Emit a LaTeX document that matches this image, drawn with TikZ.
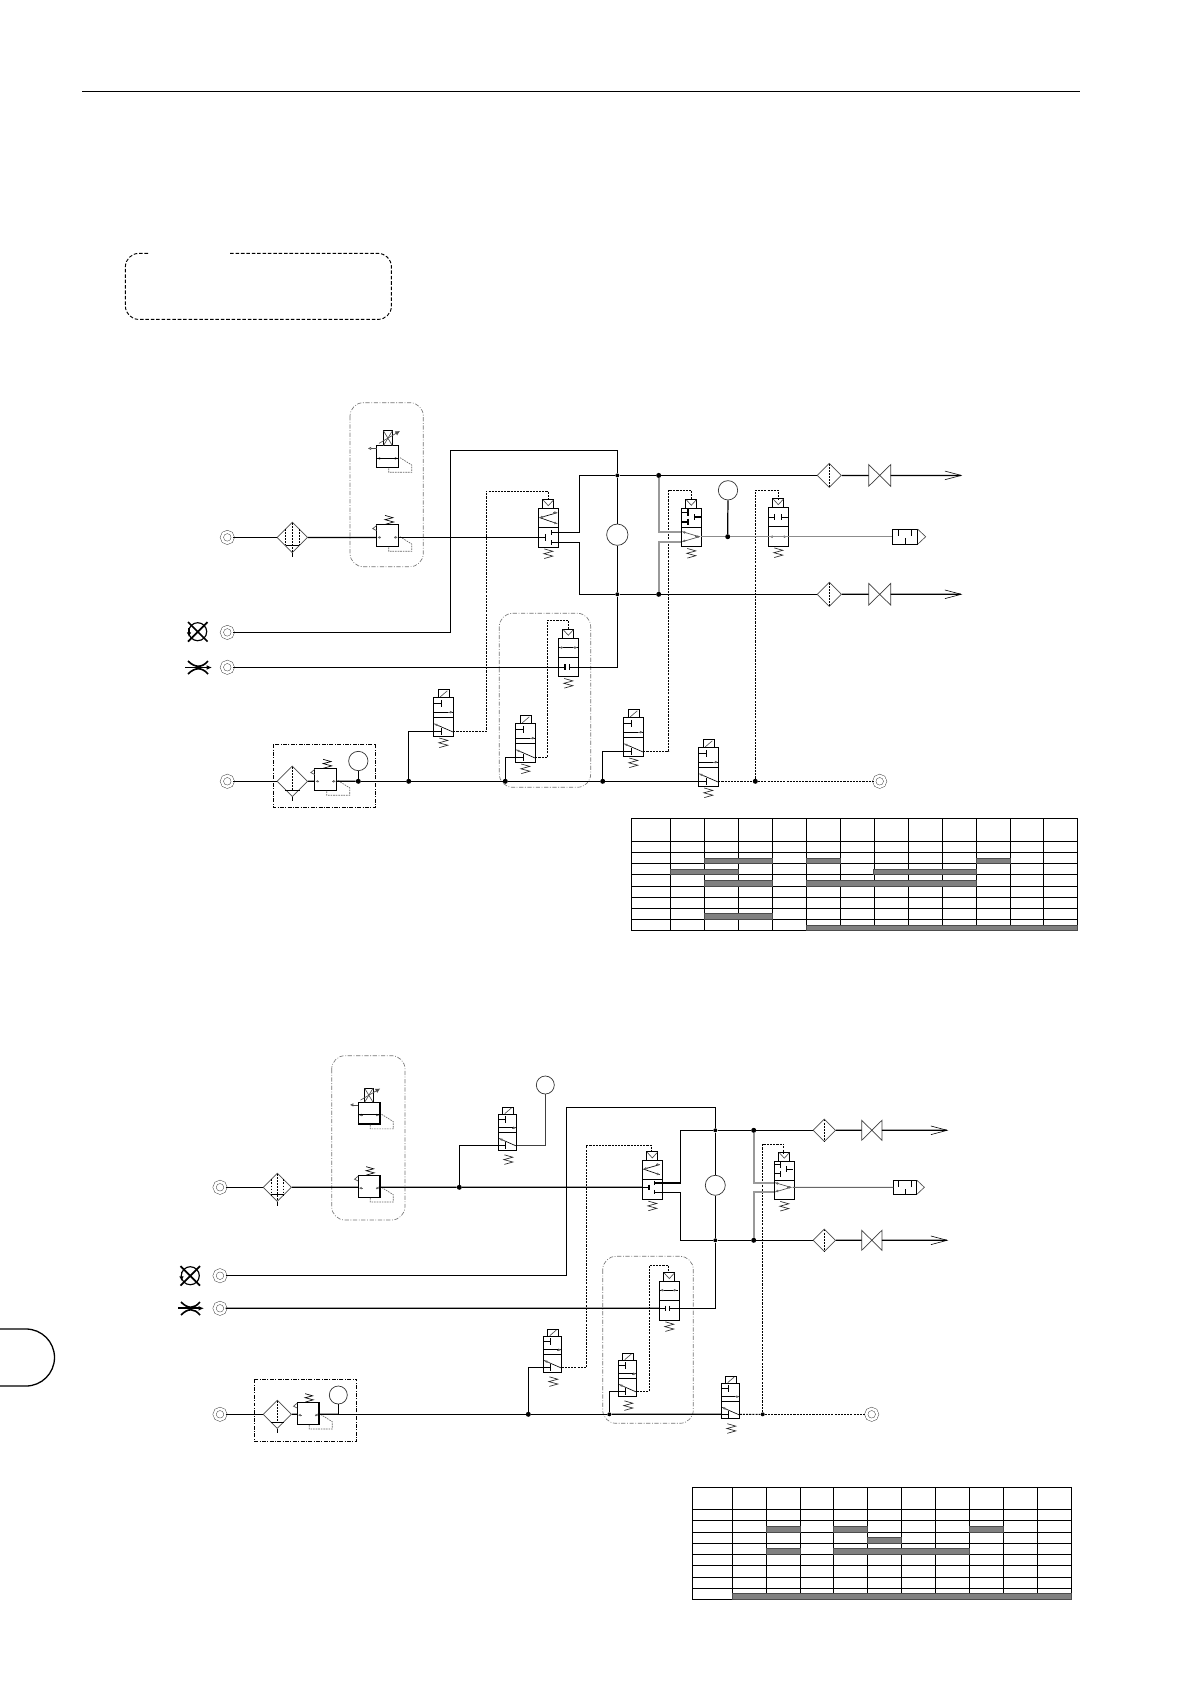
\documentclass[tikz,border=0pt]{standalone}
\usetikzlibrary{shapes.geometric,arrows.meta}
\tikzset{
	pipe/.style={line width=1.05pt,line join=miter},
	sig/.style={line width=.9pt,dash pattern=on 1.8pt off .9pt},
	sigf/.style={line width=.65pt,dash pattern=on 1.6pt off 1pt},
	lite/.style={line width=1.6pt,color=black!40},
	lineg/.style={line width=.9pt,color=black!45},
	part/.style={line width=.9pt},
	fine/.style={line width=.55pt,color=black!70},
	back/.style={line width=.55pt,color=black!60,dash pattern=on 1.4pt off .8pt},
	tick/.style={line width=.45pt,color=black!60,-{Latex[length=2.4pt,width=2.4pt]}},
	port/.style={circle,draw=black!75,double,double distance=2.2pt,line width=.4pt,minimum size=3.3mm,inner sep=0pt},
	dot/.style={circle,fill=black,minimum size=1.5mm,inner sep=0pt},
	gauge/.style={circle,draw=black!80,line width=.6pt,inner sep=0pt},
	filtr/.style={diamond,draw=black!70,line width=.6pt,inner sep=0pt,aspect=1},
	unit/.style={line width=.9pt,dash pattern=on 3.4pt off 1.2pt on .8pt off 1.2pt},
	grp/.style={line width=.55pt,color=black!55,dash pattern=on 3.6pt off 1.4pt on .7pt off 1.4pt,rounded corners=4mm},
	grid/.style={line width=.85pt},
	bar/.style={fill=black!50,draw=black!70,line width=.4pt},
	spring/.pic={\draw[fine,color=black!85] (6,40.2) -- (14.5,42.6) -- (5.5,45) -- (14.5,47.4) -- (6,49.8);},
	vbody/.pic={
		\draw[part] (0,0) rectangle (20,38.5);
		\draw[part] (0,19) -- (20,19);
		\pic {spring};
	},
	vpilot/.pic={
		\draw[part] (4.3,-9) rectangle (15.5,0);
		\draw[fine] (5,-8.5) -- (10,-3) -- (15,-8.5);
	},
	crossvalve/.pic={
		\pic {vbody}; \pic {vpilot};
		\draw[fine,color=black] (19,4) -- (1.5,9) -- (19,15);
		\draw[tick,line width=.9pt] (6,7.7) -- (1.2,9);
		\draw[tick] (15,3.9) -- (19,3.9);
		\draw[tick] (15,13.8) -- (19,15);
		\draw[part] (0,28.7) -- (7.3,28.7) (7.3,25.7) -- (7.3,32);
		\draw[part] (20,24) -- (13,24) (13,21.5) -- (13,26.5);
		\draw[part] (20,34) -- (13,34) (13,31.5) -- (13,36.5);
		\coordinate (-in) at (0,28.7);
		\coordinate (-outa) at (20,24);
		\coordinate (-outb) at (20,34);
		\coordinate (-top) at (10,-9);
	},
	passvalve/.pic={
		\pic {vbody}; \pic {vpilot};
		\draw[fine,color=black] (0,9.3) -- (20,9.3);
		\draw[tick] (5,9.3) -- (1,9.3);
		\draw[tick] (15,9.3) -- (19,9.3);
		\draw[part] (0,29) -- (6.7,29) (6.7,26) -- (6.7,32);
		\draw[part] (20,29) -- (11,29) (11,26) -- (11,32);
		\coordinate (-in) at (0,29);
		\coordinate (-out) at (20,29);
		\coordinate (-top) at (10,-9);
	},
	joinvalve/.pic={
		\pic {vbody}; \pic {vpilot};
		\draw[part] (0,4) -- (6.7,4) (6.7,.8) -- (6.7,7.4);
		\draw[part] (0,13.7) -- (6.7,13.7) (6.7,10.5) -- (6.7,16.8);
		\draw[part] (20,8.7) -- (13,8.7) (13,5.7) -- (13,11.7);
		\draw[fine] (1,23.4) -- (18,28.4) -- (1,33.4);
		\draw[tick,line width=.8pt] (14,28.4) -- (19,28.4);
		\draw[tick] (5,31.9) -- (1,33.4);
		\draw[tick] (5,24.6) -- (1,23.4);
		\coordinate (-ina) at (0,23.4);
		\coordinate (-inb) at (0,33.4);
		\coordinate (-out) at (20,28.4);
		\coordinate (-top) at (10.4,-9);
	},
	stopvalve/.pic={
		\pic {vbody}; \pic {vpilot};
		\draw[part] (0,9.5) -- (6,9.5) (6,6.3) -- (6,12.7);
		\draw[part] (20,9.5) -- (13.3,9.5) (13.3,6.3) -- (13.3,12.7);
		\draw[tick] (5,29) -- (1.5,29);
		\draw[tick] (15,29) -- (18.5,29);
		\coordinate (-in) at (0,29);
		\coordinate (-out) at (20,29);
		\coordinate (-top) at (10,-9);
	},
	coilvalve/.pic={
		\draw[part] (0,0) rectangle (20,38.5);
		\draw[part] (5,-8) rectangle (16,0);
		\draw[fine] (7,-1) -- (14,-7);
		\draw[part] (0,19.8) -- (20,19.8);
		\draw[part] (0,14.3) -- (20,14.3);
		\draw[tick] (15,14.3) -- (19.5,14.3);
		\draw[part] (0,5.3) -- (8.3,5.3) (8.3,2) -- (8.3,8.7);
		\draw[part] (0,33.5) -- (8.3,33.5) (8.3,30) -- (8.3,37.5);
		\draw[fine,color=black] (20,34.3) -- (1,26);
		\draw[tick,line width=.8pt] (6,28.2) -- (1,26);
		\pic {spring};
		\coordinate (-in) at (0,33.5);
		\coordinate (-out) at (20,33.5);
	},
	regbase/.pic={
		\draw[part] (0,0) rectangle (21.7,21.7);
		\draw[tick] (4.5,12.7) -- (.6,12.7);
		\draw[tick] (17.2,12.7) -- (21.1,12.7);
		\draw[back] (23.3,12) -- (35,19.3) -- (35,26.6) -- (12,26.6) -- (12,21.7);
		\coordinate (-w) at (0,12.7);
		\coordinate (-e) at (21.7,12.7);
	},
	regspring/.pic={
		\pic (-b) {regbase};
		\coordinate (-w) at (0,12.7);
		\coordinate (-e) at (21.7,12.7);
		\draw[fine,color=black] (8.3,-9.3) -- (16.3,-7) -- (8.3,-5) -- (17,-2.7) -- (8.3,-.3);
		\draw[fine] (0,.7) -- (-4,4) -- (0,6);
	},
	regcoil/.pic={
		\pic (-b) {regbase};
		\draw[part] (0,12.7) -- (21.7,12.7);
		\draw[part] (6.7,-15) rectangle (15.7,0);
		\draw[fine] (6.7,-15) -- (15.7,0) (6.7,0) -- (15.7,-15);
		\draw[fine,-{Latex[length=4pt,width=4pt]}] (2.3,-2.3) -- (23.3,-14.7);
		\draw[fine,-{Latex[open,length=3pt,width=3pt]}] (0,2.7) -- (-9,2.7);
	},
	filterthree/.pic={
		\draw[sigf] (0,-14.5) -- (0,14.5) (-6.7,-8.5) -- (-6.7,8) (6.7,-8.5) -- (6.7,8);
		\draw[part] (-6.7,8) -- (6.7,8) (0,15.3) -- (0,19.7);
	},
	filterone/.pic={
		\draw[sigf] (0,-14.5) -- (0,9);
		\draw[part] (-7.3,9.3) -- (7.3,9.3) (0,15.3) -- (0,20);
	},
	filterline/.pic={\draw[sigf] (0,-11.5) -- (0,11.5);},
	cock/.pic={
		\draw[line width=.6pt,color=black!75] (0,0) -- (22,21.7) -- (22,0) -- (0,21.7) -- cycle;
		\coordinate (-w) at (0,10.85);
		\coordinate (-e) at (22,10.85);
	},
	muffler/.pic={
		\draw[part] (0,0) rectangle (25.4,15);
		\draw[fine] (25.4,0) -- (33.4,7.5) -- (25.4,15);
		\draw[part] (6,0) -- (6,6.7) (19.3,0) -- (19.3,6.7) (13,15) -- (13,9);
		\coordinate (-w) at (0,7.5);
	},
	exit/.style={-{Straight Barb[length=4.9mm,width=2.6mm,line width=.5pt]}},
}
\begin{document}
\begin{tikzpicture}[x=.3mm,y=-.3mm]
	\useasboundingbox (0,0) rectangle (1191,1684);
	% page rule, tab, empty frame
	\draw[line width=1.1pt] (82,91.5) -- (1080,91.5);
	\draw[line width=1.1pt] (0,1329) -- (26,1329) arc (-90:90:28.5) -- (0,1386);
	\draw[line width=.8pt,dash pattern=on 3pt off 1.6pt,rounded corners=4mm] (148,253.4) -| (125.4,319.4) -| (391.4,253.4) -- (229,253.4);

	% upper circuit
	\draw[grp] (350,402.7) rectangle (423.3,566.7);
	\draw[grp] (499.3,613.3) rectangle (590.7,787.3);
	\draw[unit] (273.3,744.3) rectangle (375.7,807.3);

	\node[port] (p1) at (227.3,537.4) {};
	\node[port] (p2) at (227.3,632.4) {};
	\node[port] (p3) at (227.3,667.3) {};
	\node[port] (p4) at (227.3,781.3) {};
	\node[port] (p5) at (879.7,781.3) {};
	\node[filtr,minimum size=9.2mm] (f1) at (292.3,537.4) {};
	\node[filtr,minimum size=9.2mm] (f2) at (292.3,781.3) {};
	\node[filtr,minimum size=7.3mm] (f3) at (829.3,475.4) {};
	\node[filtr,minimum size=7.3mm] (f4) at (829.3,594.3) {};
	\pic at (f1) {filterthree};
	\pic at (f2) {filterone};
	\pic at (f3) {filterline};
	\pic at (f4) {filterline};
	\pic (r0) at (376.7,445.7) {regcoil};
	\pic (r1) at (376.7,524.7) {regspring};
	\pic (r2) at (314.8,768.6) {regspring};
	\pic (b1) at (868.7,464.55) {cock};
	\pic (b2) at (868.7,583.45) {cock};
	\pic (v1) at (538.3,508.7) {crossvalve};
	\pic (v2) at (558.3,638.3) {passvalve};
	\pic (v3) at (433.3,697.8) {coilvalve};
	\pic (v4) at (515.3,723.8) {coilvalve};
	\pic (v5) at (623.3,717.8) {coilvalve};
	\pic (v6) at (681.3,508.3) {joinvalve};
	\pic (v7) at (768.3,507.7) {stopvalve};
	\pic (v8) at (698.3,747.8) {coilvalve};
	\pic (s1) at (892.3,529.2) {muffler};
	\node[gauge,minimum size=6.4mm] (g1) at (617.3,534.7) {};
	\node[gauge,minimum size=5.8mm] (g2) at (358.3,761) {};
	\node[gauge,minimum size=5.8mm] (g3) at (728,490.3) {};
	\node[dot] (d1) at (358.3,781.3) {};
	\node[dot] (j1) at (408.7,781.3) {};
	\node[dot] (j2) at (505.3,781.3) {};
	\node[dot] (j3) at (602.7,781.3) {};
	\node[dot] (d2) at (755.3,781.3) {};
	\node[dot,minimum size=1.2mm] (j4) at (617.3,475.4) {};
	\node[dot,minimum size=1.2mm] (j5) at (617.3,594.3) {};
	\node[dot] (j6) at (658.7,475.4) {};
	\node[dot] (j7) at (658.7,594.3) {};
	\node[dot] (d3) at (727.7,536.7) {};
	\coordinate (c1) at (450.3,450.3);
	\coordinate (c2) at (579.3,475.4);
	\coordinate (c3) at (579.3,594.3);
	\coordinate (c4) at (486.3,491.3);
	\coordinate (c5) at (547.3,620.3);
	\coordinate (c6) at (668.7,490.3);
	\coordinate (c7) at (755.3,490.3);
	\coordinate (a1) at (962.3,475.4);
	\coordinate (a2) at (962.3,594.3);

	\draw[pipe] (p1) -- (f1);
	\draw[pipe] (f1) -- (r1-w);
	\draw[pipe] (r1-e) -- (v1-in);
	\draw[pipe] (p2) -| (c1) -| (j4);
	\draw[pipe] (j4) -- (g1);
	\draw[pipe] (g1) -- (j5);
	\draw[pipe] (p3) -- (v2-in);
	\draw[pipe] (v2-out) -| (j5);
	\draw[pipe] (v1-outa) -| (c2) -- (j4);
	\draw[pipe] (v1-outb) -| (c3) -- (j5);
	\draw[pipe] (j4) -- (j6);
	\draw[pipe] (j6) -- (f3);
	\draw[pipe] (f3) -- (b1-w);
	\draw[pipe,exit] (b1-e) -- (a1);
	\draw[pipe] (j5) -- (j7);
	\draw[pipe] (j7) -- (f4);
	\draw[pipe] (f4) -- (b2-w);
	\draw[pipe,exit] (b2-e) -- (a2);
	\draw[pipe] (p4) -- (f2);
	\draw[pipe] (f2) -- (r2-w);
	\draw[pipe] (r2-e) -- (d1);
	\draw[pipe] (g2) -- (d1);
	\draw[pipe] (d1) -- (j1);
	\draw[pipe] (j1) -- (j2);
	\draw[pipe] (j2) -- (j3);
	\draw[pipe] (j3) -- (v8-in);
	\draw[pipe] (j1) |- (v3-in);
	\draw[pipe] (j2) |- (v4-in);
	\draw[pipe] (j3) |- (v5-in);
	\draw[pipe] (g3) -- (d3);
	\draw[sig] (v3-out) -| (c4) -| (v1-top);
	\draw[sig] (v4-out) -| (c5) -| (v2-top);
	\draw[sig] (v5-out) -| (c6) -| (v6-top);
	\draw[sig] (v8-out) -- (d2);
	\draw[sig] (d2) -- (p5);
	\draw[sig] (d2) -- (c7) -| (v7-top);
	\draw[lite] (j6) |- (v6-ina);
	\draw[lite] (j7) |- (v6-inb);
	\draw[lineg] (v6-out) -- (d3);
	\draw[lineg] (d3) -- (v7-in);
	\draw[lineg] (v7-in) -- (v7-out);
	\draw[lineg] (v7-out) -- (s1-w);

	% upper table
	\foreach \x in {631,670.3,704.3,738.3,772.3,806.3,840.3,874.3,908.3,942.3,976.3,1010.3,1043.3,1077.7}
	{
		\draw[grid] (\x,818.3) -- (\x,930.3);
	}
	\foreach \y in {818.3,841.3,852.3,863.3,874.3,886.3,897.3,908.3,919.3,930.3}
	{
		\draw[grid] (631,\y) -- (1077.7,\y);
	}
	\foreach \a/\d/\b/\c in {858.3/863.3/704.3/772.3,858.3/863.3/806.3/840.3,858.3/863.3/976.3/1010.3,869.3/874.3/670.3/738.3,869.3/874.3/873.3/976.3,880.3/886.3/704.3/772.3,880.3/886.3/806.3/976.3,913.3/919.3/704.3/772.3,925.3/930.3/806.3/1077.7}
	{
		\filldraw[bar] (\b,\a) rectangle (\c,\d);
	}

	% lower circuit
	\draw[grp] (331.7,1055.7) rectangle (405,1220);
	\draw[grp] (602.7,1256.3) rectangle (693.3,1423.3);
	\draw[unit] (254.3,1379.3) rectangle (356.7,1441.3);

	\node[port] (q1) at (220,1187.3) {};
	\node[port] (q2) at (220,1275.7) {};
	\node[port] (q3) at (220,1308.3) {};
	\node[port] (q4) at (220,1414.3) {};
	\node[port] (q5) at (871.7,1414.3) {};
	\node[filtr,minimum size=8.5mm] (k1) at (277.3,1187.3) {};
	\node[filtr,minimum size=8.5mm] (k2) at (277.3,1414.3) {};
	\node[filtr,minimum size=6.8mm] (k3) at (824.3,1130.3) {};
	\node[filtr,minimum size=6.8mm] (k4) at (824.3,1240.3) {};
	\pic[scale=.93] at (k1) {filterthree};
	\pic[scale=.93] at (k2) {filterone};
	\pic[scale=.93] at (k3) {filterline};
	\pic[scale=.93] at (k4) {filterline};
	\pic[scale=.94] (t0) at (358.3,1102.3) {regcoil};
	\pic[scale=.94] (t1) at (358.3,1175.4) {regspring};
	\pic[scale=.94] (t2) at (297.3,1402.4) {regspring};
	\pic[scale=.92] (e1) at (861.7,1120.3) {cock};
	\pic[scale=.92] (e2) at (861.7,1230.3) {cock};
	\pic[scale=.92] (w0) at (498.3,1114.6) {coilvalve};
	\pic[scale=.92] (w1) at (642.3,1160.9) {crossvalve};
	\pic[scale=.92] (w2) at (659.3,1281.6) {passvalve};
	\pic[scale=.92] (w3) at (543.3,1336.6) {coilvalve};
	\pic[scale=.92] (w4) at (618.3,1360.6) {coilvalve};
	\pic[scale=.92] (w6) at (774.3,1161.2) {joinvalve};
	\pic[scale=.92] (w8) at (721.3,1383.5) {coilvalve};
	\pic[scale=.93] (s2) at (893.3,1180.3) {muffler};
	\node[gauge,minimum size=6mm] (h1) at (715.3,1185.3) {};
	\node[gauge,minimum size=5.4mm] (h2) at (338.3,1395) {};
	\node[gauge,minimum size=5.4mm] (h3) at (545.3,1085) {};
	\coordinate (o1) at (338.3,1414.3);
	\node[dot] (n1) at (528.3,1414.3) {};
	\node[dot,minimum size=1.2mm] (n2) at (609.3,1414.3) {};
	\node[dot,minimum size=1.2mm] (n3) at (762.7,1414.3) {};
	\node[dot] (n4) at (459.3,1187.3) {};
	\node[dot,minimum size=1.2mm] (n5) at (715.3,1130.3) {};
	\node[dot,minimum size=1.2mm] (n6) at (715.3,1240.3) {};
	\node[dot] (n7) at (753.7,1130.3) {};
	\node[dot] (n8) at (753.7,1240.3) {};
	\coordinate (l1) at (566.7,1107.3);
	\coordinate (l2) at (680.3,1130.3);
	\coordinate (l3) at (680.3,1240.3);
	\coordinate (l4) at (586.3,1145.3);
	\coordinate (l5) at (649.3,1265.3);
	\coordinate (l6) at (762.7,1144.3);
	\coordinate (a3) at (948.3,1130.3);
	\coordinate (a4) at (948.3,1240.3);

	\draw[pipe] (q1) -- (k1);
	\draw[pipe] (k1) -- (t1-w);
	\draw[pipe] (t1-e) -- (n4);
	\draw[pipe] (n4) -- (w1-in);
	\draw[pipe] (n4) |- (w0-in);
	\draw[pipe,color=black!75] (w0-out) -| (h3);
	\draw[pipe] (q2) -| (l1) -| (n5);
	\draw[pipe] (n5) -- (h1);
	\draw[pipe] (h1) -- (n6);
	\draw[pipe] (q3) -- (w2-in);
	\draw[pipe] (w2-out) -| (n6);
	\draw[pipe] (w1-outa) -| (l2) -- (n5);
	\draw[pipe] (w1-outb) -| (l3) -- (n6);
	\draw[pipe] (n5) -- (n7);
	\draw[pipe] (n7) -- (k3);
	\draw[pipe] (k3) -- (e1-w);
	\draw[pipe,exit] (e1-e) -- (a3);
	\draw[pipe] (n6) -- (n8);
	\draw[pipe] (n8) -- (k4);
	\draw[pipe] (k4) -- (e2-w);
	\draw[pipe,exit] (e2-e) -- (a4);
	\draw[pipe] (q4) -- (k2);
	\draw[pipe] (k2) -- (t2-w);
	\draw[pipe] (t2-e) -- (o1);
	\draw[pipe] (h2) -- (o1);
	\draw[pipe] (o1) -- (n1);
	\draw[pipe] (n1) -- (n2);
	\draw[pipe] (n2) -- (w8-in);
	\draw[pipe] (n1) |- (w3-in);
	\draw[pipe] (n2) |- (w4-in);
	\draw[sig] (w3-out) -| (l4) -| (w1-top);
	\draw[sig] (w4-out) -| (l5) -| (w2-top);
	\draw[sig] (w8-out) -- (n3);
	\draw[sig] (n3) -- (q5);
	\draw[sig] (n3) -- (l6) -| (w6-top);
	\draw[lite] (n7) |- (w6-ina);
	\draw[lite] (n8) |- (w6-inb);
	\draw[lineg,color=black!60] (w6-out) -- (s2-w);

	% lower table
	\foreach \x in {692.3,732.3,766.3,800.3,833.3,867.3,901.3,935.3,969.3,1003.3,1037.3,1071.3}
	{
		\draw[grid] (\x,1487.3) -- (\x,1599.3);
	}
	\foreach \y in {1487.3,1509.3,1520.3,1532.3,1543.3,1554.3,1565.3,1577.3,1588.3,1599.3}
	{
		\draw[grid] (692.3,\y) -- (1071.3,\y);
	}
	\foreach \a/\d/\b/\c in {1526.3/1532.3/766.3/800.3,1526.3/1532.3/833.3/867.3,1526.3/1532.3/969.3/1003.3,1537.3/1543.3/867.3/901.3,1548.3/1554.3/766.3/800.3,1548.3/1554.3/833.3/969.3,1593.3/1599.3/732.3/1071.3}
	{
		\filldraw[bar] (\b,\a) rectangle (\c,\d);
	}

	% left hand signs
	\draw[line width=1.5pt] (188,622) -- (207.5,641.5) (207.5,622) -- (188,641.5);
	\draw[line width=1pt] (197.7,631.7) circle (9);
	\draw[line width=1pt,-{Latex[length=4pt,width=4pt]}] (189,628) -- (189,637);
	\draw[line width=1.4pt,-{Latex[length=4.5pt,width=4pt]}] (185,667.5) -- (212,667.5);
	\draw[line width=1.4pt] (188,661) .. controls (195,668) and (202,668) .. (208,661) (188,674) .. controls (195,667) and (202,667) .. (208,674);
	\draw[line width=1.5pt] (180.5,1266) -- (200,1285.5) (200,1266) -- (180.5,1285.5);
	\draw[line width=1pt] (190.3,1275.7) circle (9);
	\draw[line width=1pt,-{Latex[length=4pt,width=4pt]}] (181.5,1272) -- (181.5,1281);
	\draw[line width=1.4pt,-{Latex[length=4.5pt,width=4pt]}] (178,1308.3) -- (204,1308.3);
	\draw[line width=1.4pt] (181,1302) .. controls (188,1309) and (194,1309) .. (200,1302) (181,1315) .. controls (188,1308) and (194,1308) .. (200,1315);
\end{tikzpicture}
\end{document}
